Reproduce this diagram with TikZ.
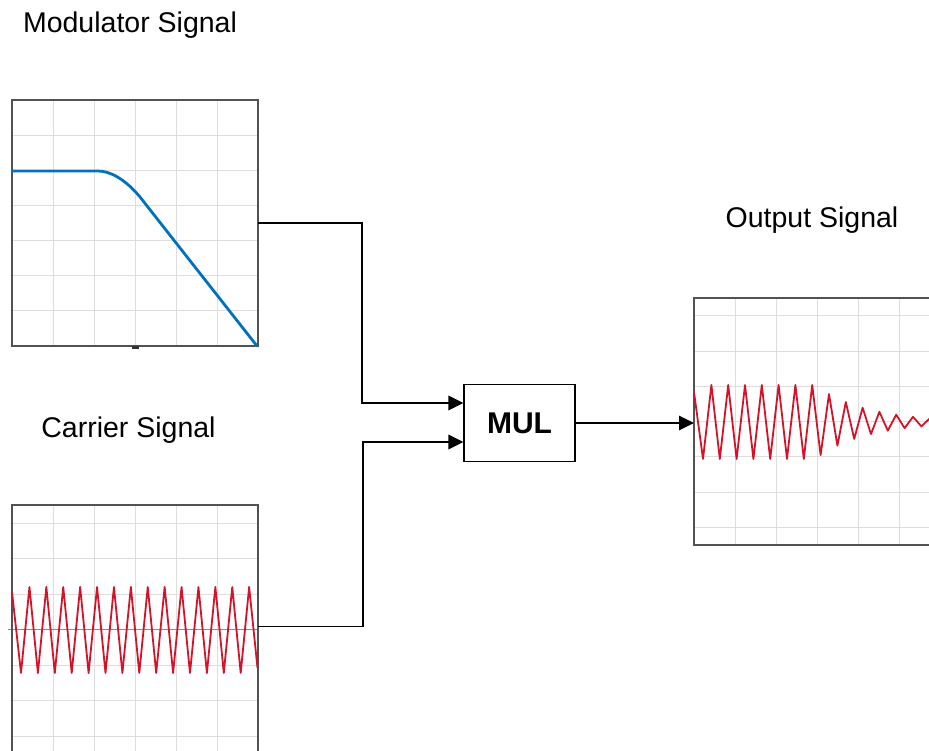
\documentclass[tikz,border=0pt]{standalone}
\usepackage{fontspec}
\setmainfont{Liberation Sans}
\usetikzlibrary{arrows.meta, positioning, calc}
\definecolor{modblue}{RGB}{0,114,189}
\definecolor{wavered}{RGB}{212,18,40}
\tikzset{%
   % plot window: grey frame, grid is drawn under it
   scopebox/.style={
      draw=black!68,
      line width=1.6pt,
      inner sep=0pt,
      outer sep=0pt,
      minimum width=246pt,
      minimum height=246pt,
      anchor=north west
   },
   gridline/.style={draw=black!13, line width=1pt},
   axisline/.style={draw=black!45, line width=1pt},
   wire/.style={
      line width=1.7pt,
      -{Triangle[length=15pt,width=14.5pt]}
   },
   blockbox/.style={
      draw,
      line width=1.4pt,
      minimum width=111pt,
      minimum height=77pt,
      inner sep=0pt,
      font=\fontsize{30}{36}\selectfont\bfseries
   },
   siglabel/.style={
      anchor=base,
      inner sep=0pt,
      font=\fontsize{28.5}{34}\selectfont
   },
   modcurve/.style={draw=modblue, line width=2.8pt},
   zigzag/.style={draw=wavered, line width=1.8pt, line join=round},
}

\begin{document}
\begin{tikzpicture}[x=1pt, y=-1pt]
   \useasboundingbox (0,0) rectangle (929,751);

   % grids
   \foreach \i in {1,...,5} {
      \draw[gridline] ({12+41*\i},100) -- ({12+41*\i},346);
      \draw[gridline] ({12+41*\i},505) -- ({12+41*\i},752);
      \draw[gridline] ({694+41*\i},298) -- ({694+41*\i},545);
   }
   \foreach \j in {1,...,6}
      \draw[gridline] (12,{100+35.14*\j}) -- (258,{100+35.14*\j});
   \foreach \j in {0,1,2,4,5,6}
      \draw[gridline] (12,{523+35.5*\j}) -- (258,{523+35.5*\j});
   \foreach \j in {0,...,6}
      \draw[gridline] (694,{316+35.2*\j}) -- (940,{316+35.2*\j});
   \draw[axisline] (8,629.5) -- (258,629.5);

   % plot windows
   \node[scopebox] (mod) at (12,100) {};
   \node[scopebox, minimum height=247pt] (carr) at (12,505) {};
   \node[scopebox, minimum height=247pt] (outp) at (694,298) {};
   \draw[black!80, line width=3pt] (132,347.5) -- (139,347.5);

   % signals
   \draw[modcurve] (12,171) -- (98,171)
      .. controls (110,171) and (125,179) .. (140,197) -- (257,346);
   \draw[zigzag] (12,592)
      \foreach \k in {0,...,13} { -- ({21+16.9*\k},673) -- ({29.45+16.9*\k},587) }
      -- (257.5,668);
   \draw[zigzag] (694,392)
      \foreach \k [evaluate=\k as \ta using {37*min(1,exp(-(703+16.8*\k-815)/50))},
                   evaluate=\k as \pa using {37*min(1,exp(-(711.4+16.8*\k-815)/50))}]
         in {0,...,13} { -- ({703+16.8*\k},{422+\ta}) -- ({711.4+16.8*\k},{422-\pa}) };

   \node[siglabel] (modlbl) at (130,33) {Modulator Signal};
   \node[siglabel] (carrlbl) at (128.5,437) {Carrier Signal};
   \node[siglabel] (outlbl) at (812,228) {Output Signal};

   \node[blockbox] (mul) at (519.5,423) {MUL};
   \coordinate (in1) at ($(mul.west)+(0,-20)$);
   \coordinate (in2) at ($(mul.west)+(0,19)$);

   \draw[wire] (mod.east) -- ++(104,0) |- (in1);
   \draw[wire] ([yshift=2pt]carr.east) -- ++(105,0) |- (in2);
   \draw[wire, line width=1.4pt] (mul.east) -- (mul.east -| outp.west);
\end{tikzpicture}
\end{document}
